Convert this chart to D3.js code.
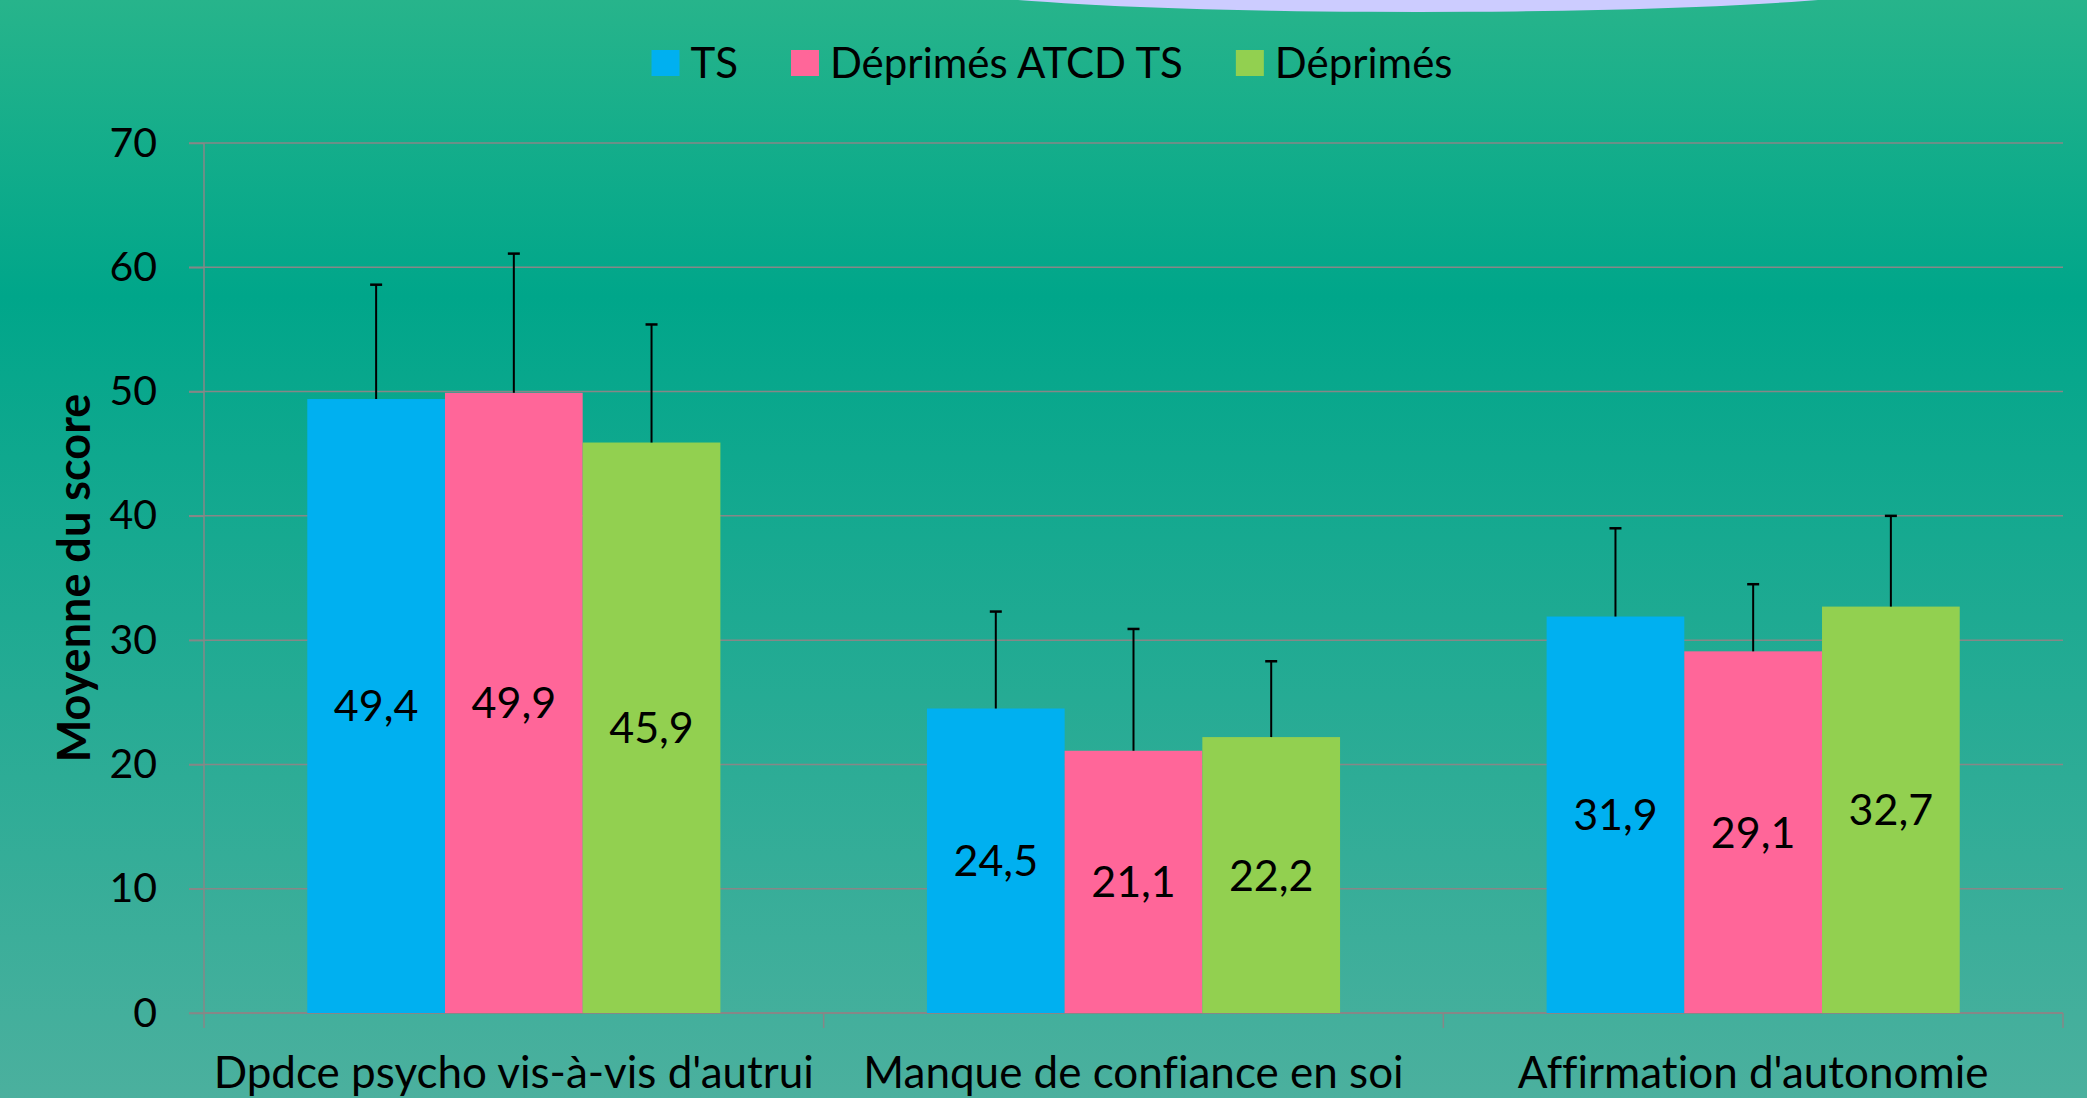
<!DOCTYPE html>
<html>
<head>
<meta charset="utf-8">
<script src="https://cdn.jsdelivr.net/npm/d3@7"></script>
<style>
  body { margin: 0; overflow: hidden; }
  text { font-family: Lato, "Open Sans", sans-serif; fill: #000; font-variant-ligatures: none; }
</style>
</head>
<body>
<div id="chart"></div>
<script>
var svgWidth = 2087;
var svgHeight = 1098;

// data
var categories = ["Dpdce psycho vis-à-vis d'autrui", "Manque de confiance en soi", "Affirmation d'autonomie"];
var seriesNames = ["TS", "Déprimés ATCD TS", "Déprimés"];
var seriesColors = ["#00B0F0", "#FF6699", "#92D050"];
var tsValues = [49.4, 24.5, 31.9];
var atcdValues = [49.9, 21.1, 29.1];
var deprValues = [45.9, 22.2, 32.7];
var tsErr = [9.2, 7.8, 7.1];
var atcdErr = [11.2, 9.8, 5.4];
var deprErr = [9.5, 6.1, 7.3];
var yTicks = [0, 10, 20, 30, 40, 50, 60, 70];

var seriesValues = [tsValues, atcdValues, deprValues];
var seriesErr = [tsErr, atcdErr, deprErr];

var margin = { top: 143, right: 24, bottom: 85, left: 204 };
var width = svgWidth - margin.left - margin.right;
var height = svgHeight - margin.top - margin.bottom;

var svg = d3.select("#chart")
  .append("svg")
  .attr("width", svgWidth)
  .attr("height", svgHeight);

// background gradient
var defs = svg.append("defs");
var grad = defs.append("linearGradient")
  .attr("id", "bg")
  .attr("x1", 0).attr("y1", 0).attr("x2", 0).attr("y2", 1);
grad.append("stop").attr("offset", "0").attr("stop-color", "#27B48B");
grad.append("stop").attr("offset", "0.27").attr("stop-color", "#00A68A");
grad.append("stop").attr("offset", "1").attr("stop-color", "#4BB09E");

svg.append("rect")
  .attr("width", svgWidth)
  .attr("height", svgHeight)
  .attr("fill", "url(#bg)");

// lavender shape peeking in at the top
svg.append("ellipse")
  .attr("cx", 1418)
  .attr("cy", -18)
  .attr("rx", 500)
  .attr("ry", 30)
  .attr("fill", "#CCCCFF");

var chartGroup = svg.append("g")
  .attr("transform", `translate(${margin.left}, ${margin.top})`);

var yScale = d3.scaleLinear()
  .domain([0, 70])
  .range([height, 0]);

var x0 = d3.scaleBand()
  .domain(categories)
  .range([0, width]);

var x1 = d3.scaleBand()
  .domain(seriesNames)
  .range([0, x0.bandwidth()])
  .paddingOuter(0.75);

// gridlines
chartGroup.selectAll(".grid")
  .data(yTicks)
  .enter()
  .append("line")
  .attr("x1", -15)
  .attr("x2", width)
  .attr("y1", d => yScale(d))
  .attr("y2", d => yScale(d))
  .attr("stroke", "#878787")
  .attr("stroke-width", 1.5);

// y axis
var leftAxis = d3.axisLeft(yScale)
  .tickValues(yTicks)
  .tickSize(15)
  .tickPadding(32);

var yAxis = chartGroup.append("g").call(leftAxis);
yAxis.select(".domain").remove();
yAxis.selectAll("line").attr("stroke", "#878787").attr("stroke-width", 1.5);
yAxis.selectAll("text")
  .style("font-family", "Lato, sans-serif")
  .style("font-size", "41px")
  .attr("fill", "#000");

chartGroup.append("line")
  .attr("x1", 0).attr("x2", 0)
  .attr("y1", 0).attr("y2", height + 15)
  .attr("stroke", "#878787")
  .attr("stroke-width", 1.5);

// x axis baseline and category ticks
chartGroup.append("line")
  .attr("x1", 0).attr("x2", width)
  .attr("y1", height).attr("y2", height)
  .attr("stroke", "#878787")
  .attr("stroke-width", 2);

var boundaries = categories.map(c => x0(c) + x0.bandwidth());
chartGroup.selectAll(".xtick")
  .data(boundaries)
  .enter()
  .append("line")
  .attr("x1", d => d).attr("x2", d => d)
  .attr("y1", height).attr("y2", height + 15)
  .attr("stroke", "#878787")
  .attr("stroke-width", 1.5);

chartGroup.selectAll(".xlabel")
  .data(categories)
  .enter()
  .append("text")
  .attr("x", d => x0(d) + x0.bandwidth() / 2)
  .attr("y", height + 75)
  .attr("text-anchor", "middle")
  .style("font-size", "44px")
  .text(d => d);

// bars
var rows = [];
categories.forEach(function(c, i) {
  seriesNames.forEach(function(s, j) {
    rows.push({ cat: c, series: s, value: seriesValues[j][i], err: seriesErr[j][i], color: seriesColors[j] });
  });
});

var barsGroup = chartGroup.selectAll(".bar")
  .data(rows)
  .enter()
  .append("g")
  .attr("transform", d => `translate(${x0(d.cat) + x1(d.series)}, 0)`);

barsGroup.append("rect")
  .attr("x", 0)
  .attr("y", d => yScale(d.value))
  .attr("width", x1.bandwidth())
  .attr("height", d => height - yScale(d.value))
  .attr("fill", d => d.color);

// error bars (upper only)
barsGroup.append("line")
  .attr("x1", x1.bandwidth() / 2)
  .attr("x2", x1.bandwidth() / 2)
  .attr("y1", d => yScale(d.value))
  .attr("y2", d => yScale(d.value + d.err))
  .attr("stroke", "#000")
  .attr("stroke-width", 2);

barsGroup.append("line")
  .attr("x1", x1.bandwidth() / 2 - 6)
  .attr("x2", x1.bandwidth() / 2 + 6)
  .attr("y1", d => yScale(d.value + d.err))
  .attr("y2", d => yScale(d.value + d.err))
  .attr("stroke", "#000")
  .attr("stroke-width", 2.5);

// value labels
barsGroup.append("text")
  .attr("x", x1.bandwidth() / 2)
  .attr("y", d => (yScale(d.value) + height) / 2)
  .attr("dy", "0.36em")
  .attr("text-anchor", "middle")
  .style("font-size", "43px")
  .text(d => d3.format(".1f")(d.value).replace(".", ","));

// y axis title
chartGroup.append("text")
  .attr("transform", "rotate(-90)")
  .attr("x", -height / 2)
  .attr("y", -114)
  .attr("text-anchor", "middle")
  .style("font-size", "45px")
  .style("font-weight", "bold")
  .text("Moyenne du score");

// legend
var legend = svg.append("g");
var legendX = 0;
seriesNames.forEach(function(s, i) {
  var item = legend.append("g").attr("transform", `translate(${legendX}, 0)`);
  item.append("rect")
    .attr("x", 0).attr("y", 50)
    .attr("width", 28).attr("height", 26)
    .attr("fill", seriesColors[i]);
  var t = item.append("text")
    .attr("x", 39)
    .attr("y", 78)
    .style("font-size", "42px")
    .text(s);
  legendX += 39 + t.node().getComputedTextLength() + 53;
});
var legendWidth = legendX - 53;
legend.attr("transform", `translate(${1052 - legendWidth / 2}, 0)`);
</script>
</body>
</html>
